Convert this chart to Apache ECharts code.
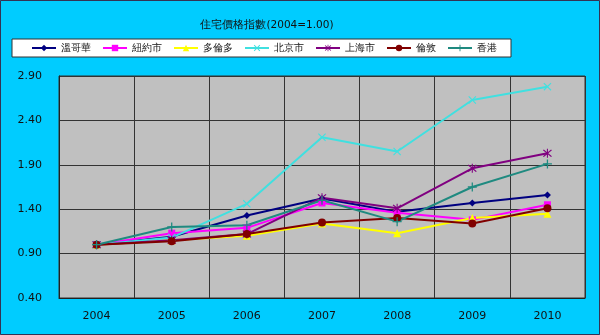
<!DOCTYPE html>
<html><head><meta charset="utf-8">
<script src="https://cdn.jsdelivr.net/npm/echarts@6/dist/echarts.min.js"></script>
<style>html,body{margin:0;padding:0;background:#00CCFF;}#c{width:600px;height:335px;}</style>
</head><body><div id="c"></div>
<script>
const years = ['2004','2005','2006','2007','2008','2009','2010'];
const names = ['溫哥華','紐約市','多倫多','北京市','上海市','倫敦','香港'];
const vancouver = [1.00, 1.09, 1.33, 1.52, 1.37, 1.47, 1.56];
const newYork   = [1.00, 1.13, 1.19, 1.47, 1.36, 1.28, 1.45];
const toronto   = [1.00, 1.05, 1.10, 1.24, 1.13, 1.30, 1.35];
const beijing   = [1.00, 1.08, 1.46, 2.21, 2.05, 2.63, 2.78];
const shanghai  = [1.00, 1.05, 1.12, 1.53, 1.41, 1.86, 2.03];
const london    = [1.00, 1.04, 1.12, 1.25, 1.30, 1.24, 1.41];
const hongKong  = [1.00, 1.20, 1.22, 1.50, 1.26, 1.65, 1.91];
const yTicks = ['0.40','0.90','1.40','1.90','2.40','2.90'];

const seriesData = [vancouver, newYork, toronto, beijing, shanghai, london, hongKong];
const colors = ['#000080','#FF00FF','#FFFF00','#40E0E0','#800080','#800000','#1F8A80'];
const X = 'path://M1,0L5,4L9,0L10,1L6,5L10,9L9,10L5,6L1,10L0,9L4,5L0,1Z';
const STAR = 'path://M1,0L5,4L9,0L10,1L6,5L10,9L9,10L5,6L1,10L0,9L4,5L0,1ZM4.4,-1H5.6V11H4.4Z';
const PLUS = 'path://M4.3,0H5.7V4.3H10V5.7H5.7V10H4.3V5.7H0V4.3H4.3Z';
const symbols = ['diamond','rect','triangle',X,STAR,'circle',PLUS];
const sizes = [7,7,8,8,9,8,9];

const chart = echarts.init(document.getElementById('c'));
chart.setOption({
  backgroundColor: '#00CCFF',
  animation: false,
  title: {
    text: '住宅價格指數(2004=1.00)',
    left: 262, top: 15, textAlign: 'center',
    textStyle: {fontSize: 10.5, fontWeight: 'normal', color: '#111', fontFamily: 'DejaVu Sans'}
  },
  legend: {
    left: 12, top: 39,
    padding: [4, 14, 4, 19],
    backgroundColor: '#fff', borderColor: '#333', borderWidth: 1,
    itemWidth: 24, itemHeight: 8, itemGap: 11,
    textStyle: {fontSize: 10, color: '#111', fontFamily: 'DejaVu Sans'},
    data: names
  },
  grid: {left: 59, top: 76, right: 15, bottom: 37, show: true, backgroundColor: '#C0C0C0', borderColor: '#333', borderWidth: 1},
  xAxis: {
    type: 'category', data: years, boundaryGap: true,
    axisLine: {lineStyle: {color: '#222', width: 1}},
    axisTick: {show: false},
    splitLine: {show: true, lineStyle: {color: '#333', width: 1}},
    axisLabel: {fontSize: 11, color: '#111', fontFamily: 'DejaVu Sans', margin: 13}
  },
  yAxis: {
    type: 'value', min: 0.4, max: 2.9, interval: 0.5,
    axisLine: {show: true, lineStyle: {color: '#222', width: 1}},
    axisTick: {show: false},
    splitLine: {show: true, lineStyle: {color: '#333', width: 1}},
    axisLabel: {fontSize: 11, color: '#111', fontFamily: 'DejaVu Sans', margin: 17,
      formatter: v => { const s = v.toFixed(2); return yTicks.includes(s) ? s : ''; }}
  },
  graphic: [{type: 'rect', shape: {x: 0.5, y: 0.5, width: 599, height: 334}, style: {fill: 'none', stroke: '#335', lineWidth: 1}, silent: true}],
  series: seriesData.map((d, i) => ({
    name: names[i], type: 'line', data: d,
    symbol: symbols[i], symbolSize: sizes[i], showAllSymbol: true,
    lineStyle: {width: 2, color: colors[i]},
    itemStyle: {color: colors[i]},
    emphasis: {disabled: true}
  }))
});
</script></body></html>
